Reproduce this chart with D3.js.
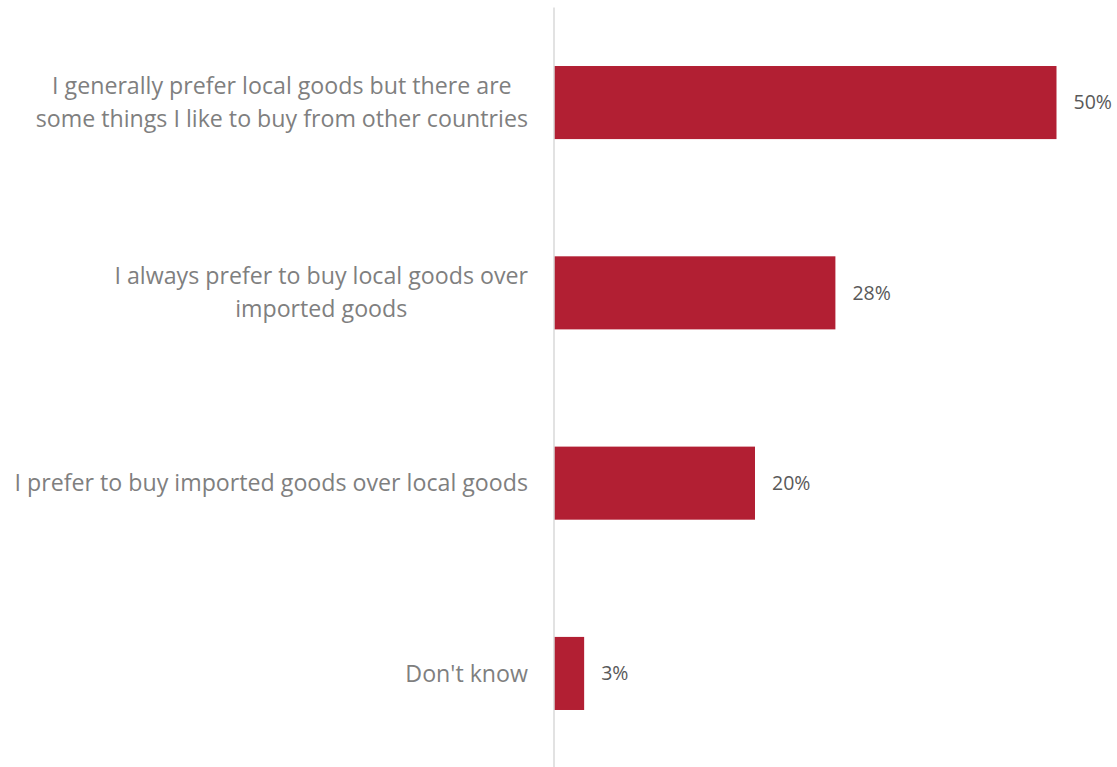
<!DOCTYPE html>
<html>
<head>
<meta charset="utf-8">
<script src="https://cdn.jsdelivr.net/npm/d3@7"></script>
<style>
  html, body { margin: 0; padding: 0; background: #ffffff; }
  svg { display: block; }
</style>
</head>
<body>
<svg id="chart" width="1117" height="767"></svg>
<script>
// Survey answers, top to bottom, and the share choosing each one (%)
const categories = [
  "I generally prefer local goods but there are\nsome things I like to buy from other countries",
  "I always prefer to buy local goods over\nimported goods",
  "I prefer to buy imported goods over local goods",
  "Don't know"
];
const values = [50, 28, 20, 3];
const valueLabels = ["50%", "28%", "20%", "3%"];

const width = 1117, height = 767;
const axisX = 554;
const labelRight = 528;

const svg = d3.select("#chart");

const y = d3.scaleBand()
  .domain(categories)
  .range([7.4, 768.6])
  .paddingInner(0.616)
  .paddingOuter(0.308);

const x = d3.scaleLinear()
  .domain([0, 50])
  .range([axisX, axisX + 502.5]);

// bars
svg.append("g")
  .selectAll("rect")
  .data(categories)
  .join("rect")
  .attr("x", x(0))
  .attr("y", d => y(d))
  .attr("width", (d, i) => x(values[i]) - x(0))
  .attr("height", y.bandwidth())
  .attr("fill", "#B21F33");

// category axis line
const axis = svg.append("g")
  .attr("transform", `translate(${axisX},0)`)
  .call(d3.axisLeft(y).tickSize(0).tickFormat(""));
axis.select(".domain")
  .attr("stroke", "#d9d9d9")
  .attr("stroke-width", 1.5)
  .attr("d", `M0,${y.range()[0]}V${height}`);

// category labels, centred within a right-aligned block
const lineGap = 33;
const labelG = svg.append("g")
  .attr("font-family", "'Open Sans', sans-serif")
  .attr("font-size", 23.2)
  .attr("fill", "#7f7f7f");

categories.forEach(cat => {
  const lines = cat.split("\n");
  const cy = y(cat) + y.bandwidth() / 2;
  const t = labelG.append("text").attr("text-anchor", "middle");
  lines.forEach((ln, j) => {
    t.append("tspan")
      .attr("y", cy + (j - (lines.length - 1) / 2) * lineGap)
      .attr("dy", "0.35em")
      .text(ln);
  });
  let maxW = 0;
  t.selectAll("tspan").each(function () {
    maxW = Math.max(maxW, this.getComputedTextLength());
  });
  t.selectAll("tspan").attr("x", labelRight - maxW / 2);
});

// value labels
svg.append("g")
  .attr("font-family", "'Open Sans', sans-serif")
  .attr("font-size", 19.5)
  .attr("fill", "#595959")
  .selectAll("text")
  .data(categories)
  .join("text")
  .attr("x", (d, i) => x(values[i]) + 17)
  .attr("y", d => y(d) + y.bandwidth() / 2)
  .attr("dy", "0.35em")
  .text((d, i) => valueLabels[i]);
</script>
</body>
</html>
